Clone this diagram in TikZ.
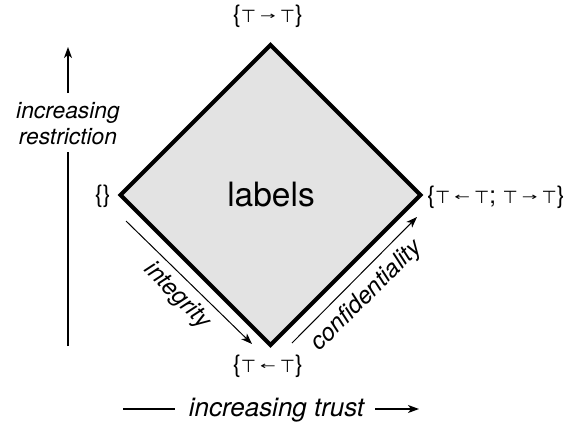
\documentclass[tikz,border=0pt]{standalone}
\usepackage{fontspec}
\usepackage{graphicx}
\setmainfont{TeX Gyre Heros}
\newfontfamily\symfont{DejaVu Sans}
\usetikzlibrary{arrows.meta}

% lattice symbols: top element and the two flow arrows
\newcommand{\tp}{{\symfont\fontsize{17.5}{17}\selectfont ⊤}}
\newcommand{\flowl}{\,\raisebox{0.12em}{\scalebox{1.1}[0.6]{\symfont\fontsize{17}{17}\selectfont ←}}\,}
\newcommand{\flowr}{\,\raisebox{0.12em}{\scalebox{1.1}[0.6]{\symfont\fontsize{17}{17}\selectfont →}}\,}

\tikzset{
  corner/.style={font=\fontsize{24}{24}\selectfont, inner sep=2pt},
  axis/.style={font=\fontsize{24}{26}\itshape\selectfont, inner sep=0pt},
  axisline/.style={line width=1.2pt},
  axistip/.style={-{Stealth[length=11pt,width=8pt,inset=3pt]}},
  sidearrow/.style={line width=1pt, -{Stealth[length=11pt,width=8pt,inset=3pt]}},
  lattice/.style={draw=black, line width=4pt, line join=miter, fill=black!11},
}

\begin{document}
\begin{tikzpicture}[x=1pt,y=-1pt]
  \useasboundingbox (0,0) rectangle (571,424);

  % corners of the label lattice
  \coordinate (bot)  at (120.5,195);
  \coordinate (lo)   at (270.5,345);
  \coordinate (hi)   at (270.5,45);
  \coordinate (both) at (420.5,195);

  \draw[lattice] (bot) -- (hi) -- (both) -- (lo) -- cycle;
  \node[font=\fontsize{33.5}{33}\selectfont] (labels) at (271,195) {labels};

  % corner labels
  \node[corner, anchor=east] (empty) at (113,196) {\{\}};
  \node[corner] (topnode) at (268,16) {\{\tp\flowr\tp\}};
  \node[corner] (botnode) at (268,366) {\{\tp\flowl\tp\}};
  \node[corner, anchor=west] (rightnode) at (425,197) {\{\tp\flowl\tp; \tp\flowr\tp\}};

  % ordering arrows along the lower edges
  \coordinate (ia) at (126,221);
  \coordinate (ib) at (252,344);
  \coordinate (ca) at (292,343);
  \coordinate (cb) at (417,217);
  \draw[sidearrow] (ia) -- (ib);
  \draw[sidearrow] (ca) -- (cb);
  \node[axis, rotate=-45] (integ) at (177,296) {integrity};
  \node[axis, rotate=45] (conf) at (367,296) {confidentiality};

  % vertical axis
  \node[axis, font=\fontsize{22.8}{26}\itshape\selectfont, align=center] (restr) at (68,124) {increasing\\restriction};
  \coordinate (vbot) at (68,346);
  \coordinate (vtop) at (68,47);
  \coordinate (vgap1) at (68,152);
  \coordinate (vgap2) at (68,93);
  \draw[axisline] (vbot) -- (vgap1);
  \draw[axisline, axistip] (vgap2) -- (vtop);

  % horizontal axis
  \node[axis, font=\fontsize{26}{26}\itshape\selectfont] (trust) at (276.5,410) {increasing trust};
  \coordinate (hl)  at (123,409);
  \coordinate (hl2) at (175,409);
  \coordinate (hr1) at (375,409);
  \coordinate (hr)  at (419,409);
  \draw[axisline] (hl) -- (hl2);
  \draw[axisline, axistip] (hr1) -- (hr);
\end{tikzpicture}
\end{document}
